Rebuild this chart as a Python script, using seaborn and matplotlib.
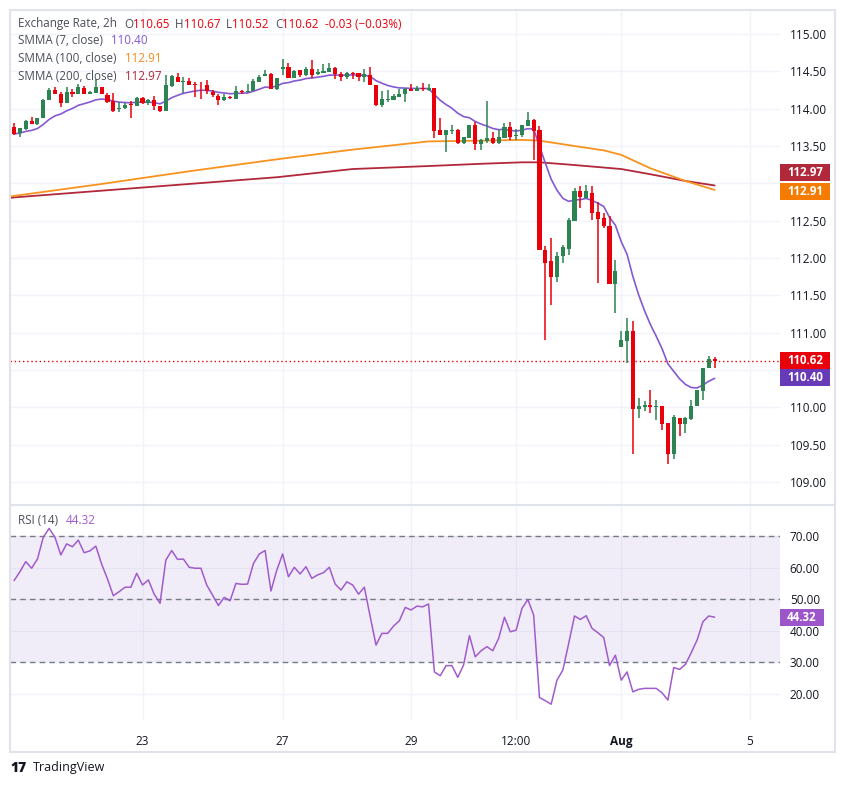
"""2h exchange-rate candles with SMMA overlays and an RSI pane (TradingView look)."""

import matplotlib

matplotlib.use("Agg")
import matplotlib.pyplot as plt
import numpy as np
import pandas as pd
import seaborn as sns
from matplotlib.lines import Line2D
from matplotlib.patches import Rectangle
from matplotlib.transforms import blended_transform_factory

# candles, oldest first
OPEN = [113.75, 113.67, 113.73, 113.83, 113.79, 113.88, 114.11, 114.25, 114.20, 114.08,
        114.22, 114.20, 114.28, 114.20, 114.21, 114.29, 114.18, 114.10, 113.99, 114.01,
        114.06, 114.04, 114.14, 114.07, 114.12, 114.04, 113.97, 114.30, 114.42, 114.36,
        114.37, 114.33, 114.32, 114.32, 114.22, 114.17, 114.11, 114.16, 114.13, 114.23,
        114.22, 114.23, 114.36, 114.43, 114.46, 114.26, 114.53, 114.55, 114.41, 114.52,
        114.45, 114.53, 114.46, 114.48, 114.49, 114.54, 114.46, 114.42, 114.48, 114.47,
        114.42, 114.45, 114.32, 114.05, 114.12, 114.12, 114.16, 114.19, 114.26, 114.24,
        114.27, 114.25, 114.28, 113.71, 113.65, 113.70, 113.71, 113.54, 113.61, 113.78,
        113.53, 113.57, 113.61, 113.54, 113.61, 113.75, 113.63, 113.64, 113.77, 113.85,
        113.71, 112.10, 111.96, 111.75, 112.02, 112.12, 112.50, 112.89, 112.80, 112.87,
        112.62, 112.54, 112.43, 111.65, 110.80, 110.88, 111.02, 109.97, 110.00, 110.03,
        110.00, 110.01, 109.79, 109.37, 109.86, 109.78, 109.84, 110.01, 110.22, 110.52,
        110.65]
HIGH = [113.80, 113.74, 113.85, 113.89, 113.88, 114.13, 114.27, 114.29, 114.22, 114.29,
        114.26, 114.33, 114.30, 114.24, 114.39, 114.29, 114.21, 114.21, 114.09, 114.07,
        114.10, 114.15, 114.15, 114.13, 114.17, 114.04, 114.45, 114.45, 114.47, 114.42,
        114.41, 114.35, 114.35, 114.38, 114.25, 114.19, 114.20, 114.17, 114.30, 114.25,
        114.33, 114.39, 114.45, 114.52, 114.47, 114.41, 114.66, 114.61, 114.52, 114.52,
        114.56, 114.65, 114.53, 114.60, 114.61, 114.56, 114.49, 114.49, 114.49, 114.48,
        114.53, 114.55, 114.32, 114.23, 114.25, 114.20, 114.26, 114.28, 114.33, 114.30,
        114.34, 114.33, 114.28, 113.87, 113.71, 113.78, 113.72, 113.62, 113.78, 113.82,
        113.59, 114.10, 113.69, 113.71, 113.81, 113.82, 113.73, 113.78, 113.95, 113.86,
        113.77, 112.16, 112.27, 112.08, 112.17, 112.54, 112.94, 112.96, 112.97, 112.96,
        112.75, 112.60, 112.56, 111.97, 111.02, 111.19, 111.16, 110.12, 110.08, 110.23,
        110.10, 110.01, 109.79, 109.90, 109.86, 109.87, 110.09, 110.23, 110.53, 110.68,
        110.67]
LOW = [113.65, 113.62, 113.71, 113.79, 113.78, 113.88, 114.11, 114.19, 114.02, 114.08,
       114.16, 114.20, 114.19, 114.19, 114.21, 114.19, 114.08, 113.95, 113.95, 114.00,
       113.87, 114.03, 114.06, 114.05, 113.98, 113.96, 113.97, 114.29, 114.35, 114.21,
       114.31, 114.16, 114.13, 114.19, 114.15, 114.05, 114.10, 114.13, 114.13, 114.20,
       114.21, 114.23, 114.35, 114.43, 114.26, 114.25, 114.45, 114.41, 114.41, 114.42,
       114.43, 114.41, 114.45, 114.48, 114.49, 114.39, 114.37, 114.39, 114.39, 114.37,
       114.35, 114.31, 114.03, 114.02, 114.09, 114.12, 114.15, 114.09, 114.24, 114.23,
       114.24, 114.24, 113.60, 113.65, 113.42, 113.66, 113.52, 113.53, 113.60, 113.45,
       113.45, 113.54, 113.53, 113.53, 113.61, 113.58, 113.58, 113.62, 113.77, 113.31,
       112.10, 110.90, 111.37, 111.68, 111.93, 112.04, 112.50, 112.67, 112.80, 112.51,
       111.66, 112.40, 111.65, 111.26, 110.80, 110.59, 109.37, 109.86, 109.95, 109.92,
       109.83, 109.70, 109.24, 109.30, 109.62, 109.66, 109.83, 110.01, 110.10, 110.52,
       110.52]
CLOSE = [113.66, 113.74, 113.83, 113.79, 113.88, 114.12, 114.25, 114.19, 114.08, 114.22,
         114.20, 114.29, 114.20, 114.22, 114.29, 114.19, 114.09, 113.97, 114.00, 114.05,
         114.05, 114.14, 114.07, 114.11, 114.03, 113.97, 114.31, 114.43, 114.36, 114.37,
         114.32, 114.32, 114.31, 114.23, 114.18, 114.11, 114.16, 114.14, 114.23, 114.22,
         114.23, 114.37, 114.42, 114.46, 114.26, 114.41, 114.55, 114.41, 114.50, 114.45,
         114.53, 114.45, 114.49, 114.50, 114.54, 114.46, 114.42, 114.47, 114.46, 114.42,
         114.46, 114.31, 114.05, 114.13, 114.13, 114.17, 114.20, 114.26, 114.24, 114.27,
         114.26, 114.27, 113.70, 113.65, 113.71, 113.71, 113.54, 113.62, 113.78, 113.53,
         113.58, 113.61, 113.54, 113.62, 113.75, 113.62, 113.65, 113.78, 113.85, 113.70,
         112.10, 111.93, 111.75, 112.02, 112.15, 112.51, 112.89, 112.81, 112.89, 112.60,
         112.52, 112.43, 111.65, 111.82, 110.90, 111.02, 109.97, 110.01, 110.03, 110.00,
         110.01, 109.78, 109.37, 109.87, 109.78, 109.86, 110.01, 110.23, 110.53, 110.65,
         110.62]

RSI = [55.9, 58.7, 61.9, 59.8, 62.7, 69.6, 72.4, 69.6, 64.0, 67.5,
       66.6, 68.7, 64.7, 65.3, 66.8, 61.1, 56.4, 51.1, 52.4, 53.8,
       53.8, 58.2, 54.5, 56.1, 51.6, 48.7, 62.4, 65.4, 62.6, 62.7,
       60.1, 59.8, 59.8, 54.5, 51.3, 48.0, 50.6, 49.5, 55.0, 54.7,
       54.8, 61.3, 64.3, 65.4, 52.6, 59.2, 64.3, 57.1, 60.1, 58.0,
       60.3, 56.6, 57.7, 58.4, 60.1, 54.8, 52.9, 55.5, 54.5, 51.6,
       53.8, 44.5, 35.5, 39.2, 39.2, 41.5, 43.2, 47.4, 46.6, 47.8,
       47.6, 48.5, 27.0, 25.8, 29.0, 29.0, 25.3, 29.2, 38.5, 31.8,
       33.7, 35.0, 33.7, 37.6, 44.3, 39.7, 40.2, 47.1, 49.9, 45.0,
       18.9, 17.9, 16.8, 24.4, 27.6, 36.0, 44.7, 43.6, 44.8, 40.8,
       39.4, 37.9, 29.0, 32.3, 24.4, 27.0, 20.7, 21.5, 21.8, 21.8,
       21.8, 20.4, 18.1, 28.4, 27.8, 29.4, 33.1, 37.1, 42.9, 44.7,
       44.32]

# slow SMMAs need history off-screen, so they are read at a few bars
SMMA_IDX = [-1, 0, 15, 30, 45, 58, 71, 80, 87, 90, 95, 101, 104, 109, 115, 120]
SMMA100 = [112.82, 112.83, 112.99, 113.16, 113.32, 113.45, 113.56, 113.57, 113.58, 113.57,
           113.51, 113.44, 113.38, 113.20, 113.03, 112.91]
SMMA200 = [112.80, 112.81, 112.90, 112.99, 113.08, 113.19, 113.23, 113.26, 113.28, 113.28,
           113.25, 113.21, 113.19, 113.12, 113.03, 112.97]
SMMA7_LAST = 110.40

DATE_IDX = [22, 46, 68, 86, 104, 126]
DATE_LABELS = ["23", "27", "29", "12:00", "Aug", "5"]
PRICE_TICKS = [109.0, 109.5, 110.0, 110.5, 111.0, 111.5, 112.0, 112.5, 113.0, 113.5, 114.0, 114.5, 115.0]
HIDDEN_TICKS = [110.5, 113.0]  # covered by the price tags in the original
RSI_TICKS = [20, 30, 40, 50, 60, 70]
RSI_BANDS = [30, 50, 70]

W, H = 844, 786
UP, DOWN = "#2b8451", "#e8000b"
C_SMMA7, C_SMMA100, C_SMMA200 = "#8459d2", "#f7931e", "#b2283b"
C_RSI = "#a15bcc"
GRID = "#f0f3fa"
TXT = "#131722"
LEG = "#4a4e5a"
FS = 8.35


def fx(px):
    return px / W


def fy(py):
    return 1 - py / H


def text_row(ax, x, y, parts, size=FS):
    prev = ax.figure.text(fx(x), fy(y), parts[0][0], color=parts[0][1], fontsize=size, va="center")
    for s, color, gap in parts[1:]:
        prev = ax.annotate(s, xy=(1, 0.5), xycoords=prev, xytext=(gap, 0), textcoords="offset pixels",
                           color=color, fontsize=size, va="center", annotation_clip=False)


def price_tag(ax, value, color, dy=0, width=50, height=17):
    # box glued to the right edge of the pane, dy in pixels (up is positive)
    y0, y1 = ax.get_ylim()
    ppu = ax.get_position().height * H / (y1 - y0)
    ax_w = ax.get_position().width * W
    tr = blended_transform_factory(ax.transAxes, ax.transData)
    ax.add_patch(Rectangle((1.0, value + (dy - height / 2) / ppu), width / ax_w, height / ppu,
                           transform=tr, fc=color, ec="none", clip_on=False, zorder=10))
    ax.text(1 + (width / 2) / ax_w, value + dy / ppu, f"{value:.2f}", transform=tr, ha="center",
            va="center", color="white", fontsize=8.3, fontweight="bold", clip_on=False, zorder=11)


sns.set_theme(style="white")
plt.rcParams["font.family"] = ["Open Sans", "DejaVu Sans"]

df = pd.DataFrame({"open": OPEN, "high": HIGH, "low": LOW, "close": CLOSE, "rsi": RSI})
df["idx"] = np.arange(len(df))
# SMMA(7) is Wilder smoothing of the closes
df["smma7"] = df["close"].ewm(alpha=1 / 7, adjust=False).mean()
df["color"] = np.where(df["close"] >= df["open"], UP, DOWN)
slow = pd.DataFrame({"idx": SMMA_IDX, "smma100": SMMA100, "smma200": SMMA200})

fig = plt.figure(figsize=(W / 100, H / 100), dpi=100)
fig.patch.set_facecolor("white")
ax = fig.add_axes([fx(10), fy(505), fx(780) - fx(10), (505 - 10) / H])
axr = fig.add_axes([fx(10), fy(720), fx(780) - fx(10), (720 - 505) / H], sharex=ax)

# price pane
for y in PRICE_TICKS:
    ax.axhline(y, color=GRID, lw=1, zorder=0)
for x in DATE_IDX:
    ax.axvline(x, color=GRID, lw=1, zorder=0)
    axr.axvline(x, color=GRID, lw=1, zorder=0)

sns.lineplot(data=slow, x="idx", y="smma200", ax=ax, color=C_SMMA200, lw=1.3, zorder=2)
sns.lineplot(data=slow, x="idx", y="smma100", ax=ax, color=C_SMMA100, lw=1.3, zorder=2)
sns.lineplot(data=df, x="idx", y="smma7", ax=ax, color=C_SMMA7, lw=1.2, zorder=2)

ax.vlines(df["idx"], df["low"], df["high"], colors=df["color"], lw=1.1, zorder=3)
body = (df["close"] - df["open"]).abs().clip(lower=0.012)
ax.bar(df["idx"], body, bottom=df[["open", "close"]].min(axis=1), width=0.7,
       color=df["color"], linewidth=0, zorder=4)

ax.axhline(CLOSE[-1], color=DOWN, lw=1, ls=(0, (1, 2)), zorder=1)

ax.set_xlim(-0.7, 131.2)
ax.set_ylim(108.69, 115.32)
ax.yaxis.tick_right()
ax.set_yticks(PRICE_TICKS)
ax.set_yticklabels(["" if v in HIDDEN_TICKS else f"{v:.2f}" for v in PRICE_TICKS])
ax.tick_params(axis="y", length=0, pad=7, labelsize=8.5, labelcolor=TXT)
ax.tick_params(axis="x", length=0, labelbottom=False)
ax.set_xlabel("")
ax.set_ylabel("")
for s in ax.spines.values():
    s.set_visible(False)

price_tag(ax, SMMA200[-1], C_SMMA200, dy=12.5)
price_tag(ax, SMMA100[-1], "#f57c00", dy=-1.5)
price_tag(ax, CLOSE[-1], DOWN)
price_tag(ax, SMMA7_LAST, "#673ab7", dy=-0.5)

# RSI pane
for y in RSI_TICKS:
    axr.axhline(y, color=GRID, lw=1, zorder=0)
axr.axhspan(RSI_BANDS[0], RSI_BANDS[-1], color="#7e57c2", alpha=0.1, lw=0, zorder=0)
for y in RSI_BANDS:
    axr.axhline(y, color="#787b86", lw=1, ls=(0, (4, 3)), zorder=1)
sns.lineplot(data=df, x="idx", y="rsi", ax=axr, color=C_RSI, lw=1.1, zorder=3)
axr.set_ylim(11.8, 79.8)
axr.yaxis.tick_right()
axr.set_yticks(RSI_TICKS)
axr.set_yticklabels([f"{v:.2f}" for v in RSI_TICKS])
axr.tick_params(axis="y", length=0, pad=7, labelsize=8.5, labelcolor=TXT)
axr.set_xticks(DATE_IDX)
axr.set_xticklabels(DATE_LABELS)
axr.tick_params(axis="x", length=0, pad=11, labelsize=8.5, labelcolor=TXT)
axr.get_xticklabels()[DATE_LABELS.index("Aug")].set_fontweight("bold")
axr.set_xlabel("")
axr.set_ylabel("")
for s in axr.spines.values():
    s.set_visible(False)
price_tag(axr, RSI[-1], "#9c56c9", width=44)

# legends
chg = CLOSE[-1] - CLOSE[-2]
pct = chg / CLOSE[-2] * 100
text_row(ax, 18, 24, [("Exchange Rate, 2h", LEG, 0),
                      ("O", LEG, 7), (f"{OPEN[-1]:.2f}", DOWN, 0),
                      ("H", LEG, 6), (f"{HIGH[-1]:.2f}", DOWN, 0),
                      ("L", LEG, 6), (f"{LOW[-1]:.2f}", DOWN, 0),
                      ("C", LEG, 6), (f"{CLOSE[-1]:.2f}", DOWN, 0),
                      (f"{chg:.2f} ({pct:.2f}%)".replace("(-", "(\u2212"), DOWN, 6)])
text_row(ax, 18, 41, [("SMMA (7, close)", LEG, 0), (f"{SMMA7_LAST:.2f}", C_SMMA7, 8)])
text_row(ax, 18, 59, [("SMMA (100, close)", LEG, 0), (f"{SMMA100[-1]:.2f}", "#f68b1f", 8)])
text_row(ax, 18, 77, [("SMMA (200, close)", LEG, 0), (f"{SMMA200[-1]:.2f}", C_SMMA200, 8)])
text_row(axr, 18, 521, [("RSI (14)", LEG, 0), (f"{RSI[-1]:.2f}", C_RSI, 8)])

# frame, pane separator, footer
fig.patches.append(Rectangle((fx(10), fy(752)), fx(835) - fx(10), (752 - 10) / H, transform=fig.transFigure,
                             fill=False, ec="#e0e3eb", lw=1.5))
fig.lines.append(Line2D([fx(10), fx(835)], [fy(505), fy(505)], transform=fig.transFigure,
                        color="#e0e3eb", lw=1.5))
fig.text(fx(10), fy(768), "17", fontsize=10, fontweight="black", color="#131722", va="center")
fig.text(fx(33), fy(768), "TradingView", fontsize=9, color="#131722", va="center")

fig.savefig("out.png", dpi=100, facecolor="white")
